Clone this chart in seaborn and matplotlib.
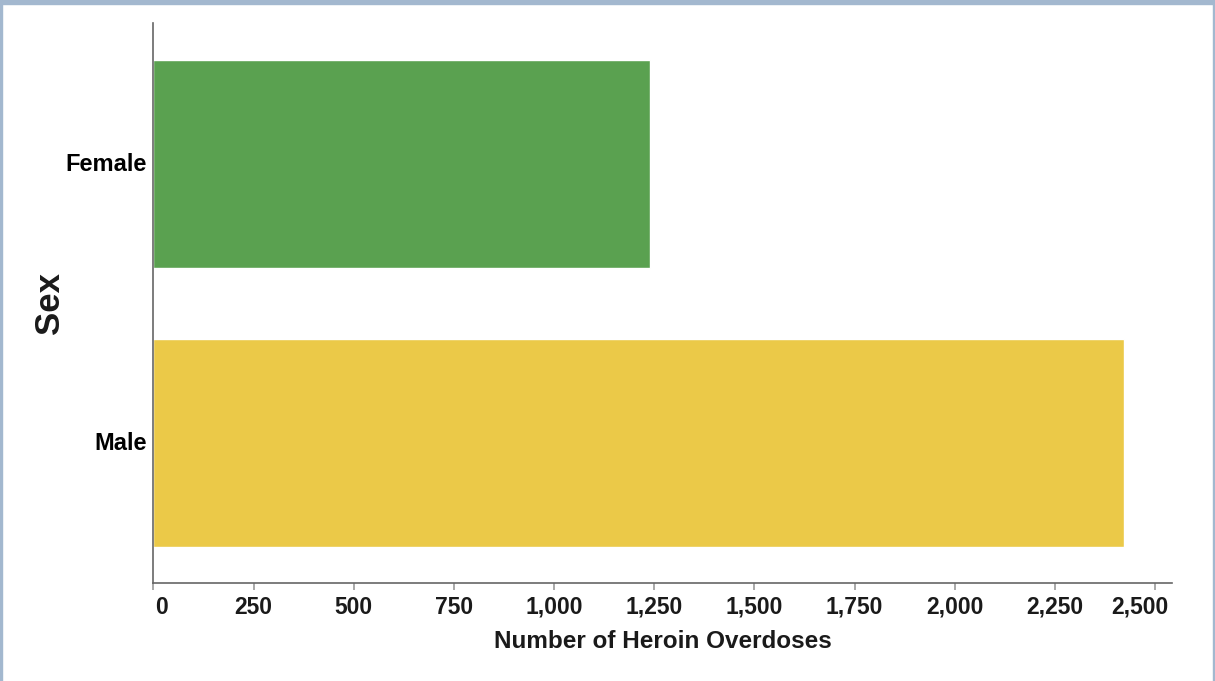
import matplotlib
matplotlib.use("Agg")
import matplotlib.pyplot as plt
import matplotlib.transforms as mtransforms
from matplotlib.patches import Rectangle
import seaborn as sns
import pandas as pd

# data
sexes = ["Female", "Male"]
overdoses = [1239, 2421]
bar_colors = ["#5aa150", "#ebc948"]
x_ticks = [0, 250, 500, 750, 1000, 1250, 1500, 1750, 2000, 2250, 2500]

df = pd.DataFrame({"Sex": sexes, "Overdoses": overdoses})

sns.set_style("white")
plt.rcParams["font.family"] = ["Liberation Sans", "DejaVu Sans"]

fig = plt.figure(figsize=(12.15, 6.81), dpi=100)
ax = fig.add_axes([0.1263, 0.1439, 0.9646 - 0.1263, 0.9662 - 0.1439])

sns.barplot(data=df, y="Sex", x="Overdoses", hue="Sex", palette=bar_colors,
            order=sexes, orient="h", width=0.745, saturation=1, legend=False, ax=ax)

ax.set_xlim(0, 2542)
ax.set_ylim(1.502, -0.505)

# axes styling
for side in ["top", "right"]:
    ax.spines[side].set_visible(False)
for side in ["left", "bottom"]:
    ax.spines[side].set_color("#666666")
    ax.spines[side].set_linewidth(1.2)

ax.set_xticks(x_ticks)
ax.set_xticklabels([f"{v:,}" for v in x_ticks], fontsize=16.5, fontweight="bold",
                   color="#1a1a1a")
ax.tick_params(axis="x", bottom=True, direction="out", length=5, width=1.2,
               color="#999999", pad=4)
ax.tick_params(axis="y", left=False, length=0, pad=5)
for lab in ax.get_yticklabels():
    lab.set_fontsize(17)
    lab.set_fontweight("bold")
    lab.set_color("#000000")
    lab.set_transform(lab.get_transform() +
                      mtransforms.ScaledTranslation(0, 2 / 100, fig.dpi_scale_trans))

# flush first/last x labels like the original
xlabs = ax.get_xticklabels()
xlabs[0].set_horizontalalignment("left")
xlabs[0].set_transform(xlabs[0].get_transform() +
                       mtransforms.ScaledTranslation(2 / 100, 0, fig.dpi_scale_trans))
xlabs[-1].set_transform(xlabs[-1].get_transform() +
                        mtransforms.ScaledTranslation(-15 / 100, 0, fig.dpi_scale_trans))

ax.set_xlabel("Number of Heroin Overdoses", fontsize=17.5, fontweight="bold",
              color="#1a1a1a", labelpad=8)
ax.set_ylabel("Sex", fontsize=25, fontweight="bold", color="#1a1a1a")
ax.yaxis.set_label_coords(50 / 1215, 1 - 303 / 681, transform=fig.transFigure)
ax.yaxis.label.set_verticalalignment("center")

# light frame around the figure
frame = "#a3b8cf"
fig.add_artist(Rectangle((0, 1 - 4 / 681), 1, 4 / 681, transform=fig.transFigure,
                         color=frame, zorder=10))
fig.add_artist(Rectangle((0, 0), 2 / 1215, 1, transform=fig.transFigure,
                         color=frame, zorder=10))
fig.add_artist(Rectangle((1 - 2 / 1215, 0), 2 / 1215, 1, transform=fig.transFigure,
                         color=frame, zorder=10))

fig.savefig("out.png", dpi=100)
